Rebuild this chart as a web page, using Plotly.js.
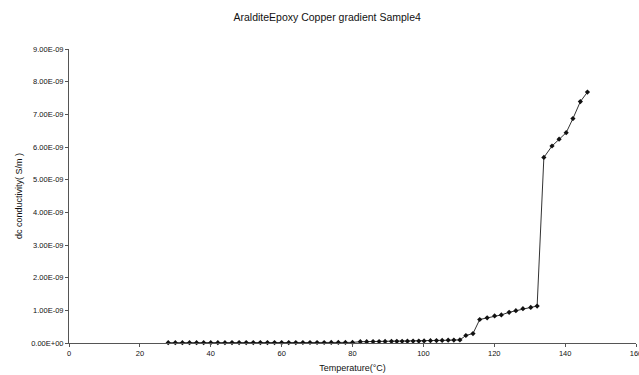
<!DOCTYPE html>
<html>
<head>
<meta charset="utf-8">
<script src="https://cdn.plot.ly/plotly-3.0.1.min.js"></script>
<style>html,body{margin:0;padding:0;background:#fff;}#chart{width:639px;height:375px;}</style>
</head>
<body>
<div id="chart"></div>
<script>
const temperature = [28,30,32,34,36,38,40,42,44,46,48,50,52,54,56,58,60,62,64,66,68,70,72,74,76,78,80,
  82.2,84,85.8,87.5,89.2,91,92.5,94,95.5,97.1,98.7,100.2,102,103.7,105.3,107,108.6,110.3,
  112,114,115.9,118,120.1,122,124.2,126.1,128.1,130.3,132.1,134,136.3,138.3,140.3,142.2,144.3,146.3];
const conductivity = [0.010,0.010,0.010,0.010,0.010,0.011,0.011,0.011,0.011,0.012,0.012,0.012,0.012,0.013,0.013,0.013,0.014,0.014,0.014,0.015,0.015,0.016,0.016,0.017,0.017,0.018,0.018,
  0.040,0.042,0.044,0.046,0.048,0.050,0.052,0.054,0.056,0.058,0.060,0.065,0.070,0.075,0.080,0.085,0.090,0.095,
  0.23,0.29,0.72,0.77,0.83,0.86,0.94,0.99,1.05,1.09,1.13,5.68,6.03,6.24,6.44,6.87,7.39,7.68].map(v => v * 1e-9);
const yTickVals = [0,1e-9,2e-9,3e-9,4e-9,5e-9,6e-9,7e-9,8e-9,9e-9];
const yTickText = ["0.00E+00","1.00E-09","2.00E-09","3.00E-09","4.00E-09","5.00E-09","6.00E-09","7.00E-09","8.00E-09","9.00E-09"];
const xTickVals = [0,20,40,60,80,100,120,140,160];
const xTickText = ["0","20","40","60","80","100","120","140","160"];

const trace = {
  x: temperature, y: conductivity, type: 'scatter', mode: 'lines+markers',
  line: {color: '#333', width: 1},
  marker: {symbol: 'diamond', size: 4, color: '#111'},
  hoverinfo: 'none', cliponaxis: false
};
const ff = 'Liberation Sans, Arial, sans-serif';
const layout = {
  width: 639, height: 375,
  margin: {l: 68.5, r: 2.5, t: 49, b: 32.3},
  paper_bgcolor: '#fff', plot_bgcolor: '#fff',
  showlegend: false,
  font: {family: ff, color: '#000'},
  title: {text: 'AralditeEpoxy Copper gradient Sample4', font: {family: ff, size: 10.5, color: '#111'}, x: 0.512, xanchor: 'center', y: 0.955, yanchor: 'middle'},
  xaxis: {
    range: [0, 160], tickvals: xTickVals, ticktext: xTickText,
    showline: true, linecolor: '#555', linewidth: 1, showgrid: false, zeroline: false,
    ticks: 'outside', ticklen: 3, tickcolor: '#555', ticklabeloverflow: 'allow',
    tickfont: {family: ff, size: 7.5, color: '#111'},
    title: {text: 'Temperature(°C)', font: {family: ff, size: 9, color: '#111'}, standoff: 7}
  },
  yaxis: {
    range: [0, 9e-9], tickvals: yTickVals, ticktext: yTickText,
    showline: true, linecolor: '#555', linewidth: 1, showgrid: false, zeroline: false,
    ticks: 'outside', ticklen: 3, tickcolor: '#555',
    tickfont: {family: ff, size: 7.5, color: '#111'},
    title: {text: 'dc conductivity( S/m )', font: {family: ff, size: 9, color: '#111'}, standoff: 7}
  }
};
Plotly.newPlot('chart', [trace], layout, {staticPlot: true, displayModeBar: false});
</script>
</body>
</html>
